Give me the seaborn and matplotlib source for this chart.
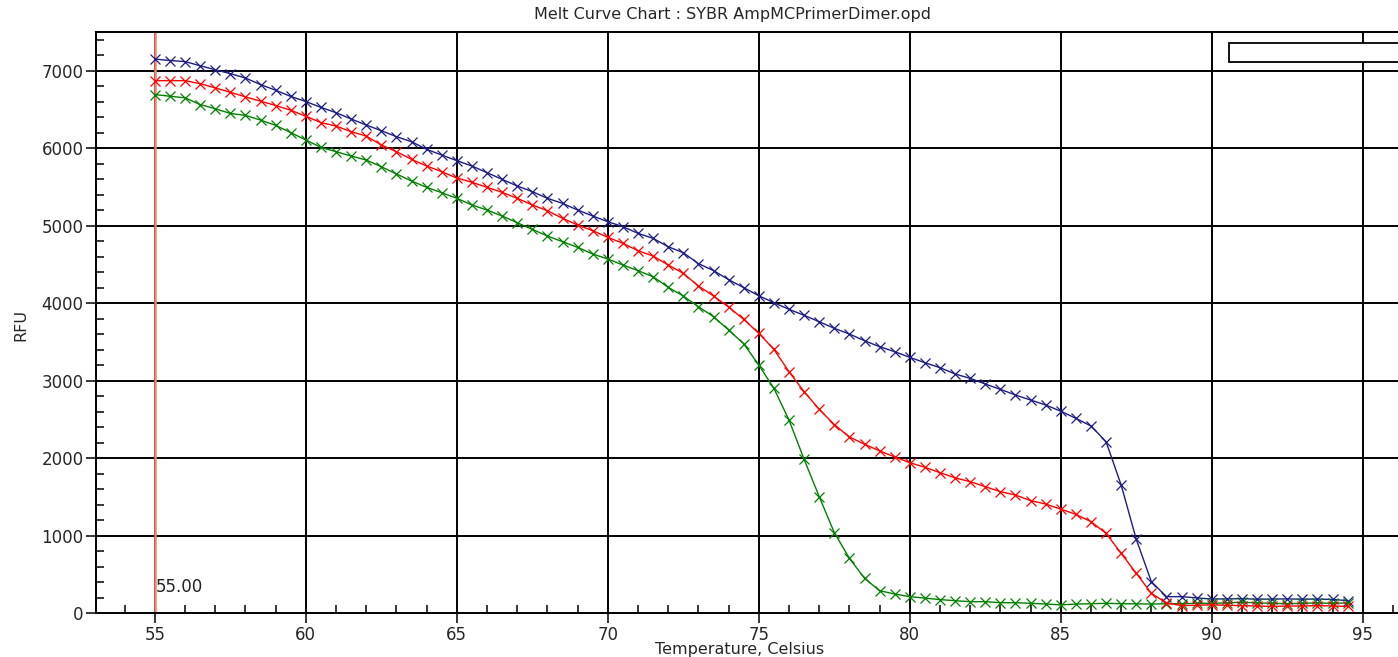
import numpy as np
import pandas as pd
import matplotlib
matplotlib.use("Agg")
import matplotlib.pyplot as plt
import matplotlib.patches as patches
from matplotlib.ticker import MultipleLocator
import seaborn as sns

# melt steps, 0.5 C from 55 to 94.5
temperatura = np.arange(55.0, 95.0, 0.5)

rfu_azul = [7150, 7132, 7118, 7064, 7013, 6962, 6906, 6821, 6748, 6668,
            6602, 6527, 6458, 6377, 6299, 6226, 6149, 6084, 5985, 5912,
            5839, 5770, 5684, 5598, 5512, 5439, 5353, 5288, 5202, 5125,
            5051, 4987, 4901, 4836, 4728, 4651, 4510, 4420, 4303, 4200,
            4095, 4006, 3920, 3843, 3760, 3675, 3601, 3515, 3438, 3373,
            3300, 3231, 3167, 3085, 3029, 2956, 2887, 2814, 2749, 2685,
            2605, 2513, 2414, 2211, 1652, 951, 404, 211, 211, 195,
            180, 182, 185, 178, 180, 182, 178, 180, 175, 160]

rfu_vermelho = [6872, 6872, 6872, 6833, 6778, 6722, 6662, 6607, 6551, 6490,
                6412, 6330, 6286, 6213, 6157, 6041, 5955, 5856, 5770, 5697,
                5615, 5560, 5495, 5430, 5353, 5267, 5193, 5095, 5008, 4935,
                4849, 4772, 4677, 4608, 4492, 4385, 4221, 4092, 3950, 3790,
                3610, 3403, 3115, 2857, 2629, 2433, 2272, 2179, 2093, 2014,
                1940, 1881, 1811, 1745, 1695, 1631, 1566, 1523, 1450, 1407,
                1340, 1274, 1179, 1028, 770, 512, 254, 130, 95, 100,
                105, 100, 95, 90, 85, 90, 90, 95, 90, 85]

rfu_verde = [6692, 6671, 6650, 6564, 6509, 6449, 6423, 6363, 6295, 6201,
             6106, 6011, 5955, 5899, 5847, 5761, 5667, 5576, 5495, 5425,
             5353, 5267, 5202, 5125, 5038, 4952, 4866, 4793, 4720, 4634,
             4570, 4492, 4419, 4341, 4204, 4092, 3954, 3825, 3653, 3475,
             3201, 2900, 2491, 1984, 1502, 1037, 706, 448, 288, 245,
             211, 192, 173, 159, 146, 146, 133, 133, 125, 116,
             105, 115, 120, 125, 120, 118, 115, 120, 120, 125,
             125, 130, 140, 130, 125, 120, 125, 130, 125, 130]

titulo = "Melt Curve Chart : SYBR AmpMCPrimerDimer.opd"
marcador_temp = 55.0

series = [("azul", rfu_azul, "#1c1c85"),
          ("verde", rfu_verde, "#008000"),
          ("vermelho", rfu_vermelho, "#ff0000")]

sns.set_style("ticks")
plt.rcParams['font.family'] = ['DejaVu Sans']

fig = plt.figure(figsize=(13.98, 6.57), dpi=100)
ax = fig.add_axes([96 / 1398, 44 / 657, 1306 / 1398, 581 / 657])

for nome, valores, cor in series:
    df = pd.DataFrame({'Temperatura': temperatura, 'RFU': valores})
    sns.lineplot(data=df, x='Temperatura', y='RFU', ax=ax, color=cor,
                 marker='x', markersize=7, markeredgewidth=0.9,
                 markeredgecolor=cor, linewidth=1.0, zorder=3)

ax.axvline(marcador_temp, color='#fa8072', lw=1.8, zorder=2.5)
ax.text(marcador_temp + 0.02, 336, f"{marcador_temp:.2f}", fontsize=12,
        ha='left', va='center', color='#222222')

ax.set_xlim(53.05, 96.3)
ax.set_ylim(0, 7500)
ax.xaxis.set_major_locator(MultipleLocator(5))
ax.xaxis.set_minor_locator(MultipleLocator(1))
ax.yaxis.set_major_locator(MultipleLocator(1000))
ax.yaxis.set_minor_locator(MultipleLocator(200))
ax.tick_params(which='major', direction='out', length=7, width=1.1,
               labelsize=12, color='black', pad=2)
ax.tick_params(which='minor', direction='in', length=6, width=1.1,
               color='black')
ax.grid(True, which='major', color='black', lw=1.4)
ax.grid(False, which='minor')
for s in ax.spines.values():
    s.set_color('black')
    s.set_linewidth(1.4)

ax.set_xlabel('Temperature, Celsius', fontsize=11.5)
ax.set_ylabel('RFU', fontsize=11.5)
ax.xaxis.set_label_coords(0.4927, -0.05)
ax.yaxis.set_label_coords(-0.052, 0.496)

# legend box (empty in the original)
ax.add_patch(patches.Rectangle((0.8675, 0.948), 0.2, 0.033,
                               transform=ax.transAxes, facecolor='white',
                               edgecolor='black', lw=1.3, zorder=5))

fig.text(733 / 1398, 1 - 15 / 657, titulo, ha='center', va='center',
         fontsize=11.5)

fig.savefig('out.png', dpi=100)
